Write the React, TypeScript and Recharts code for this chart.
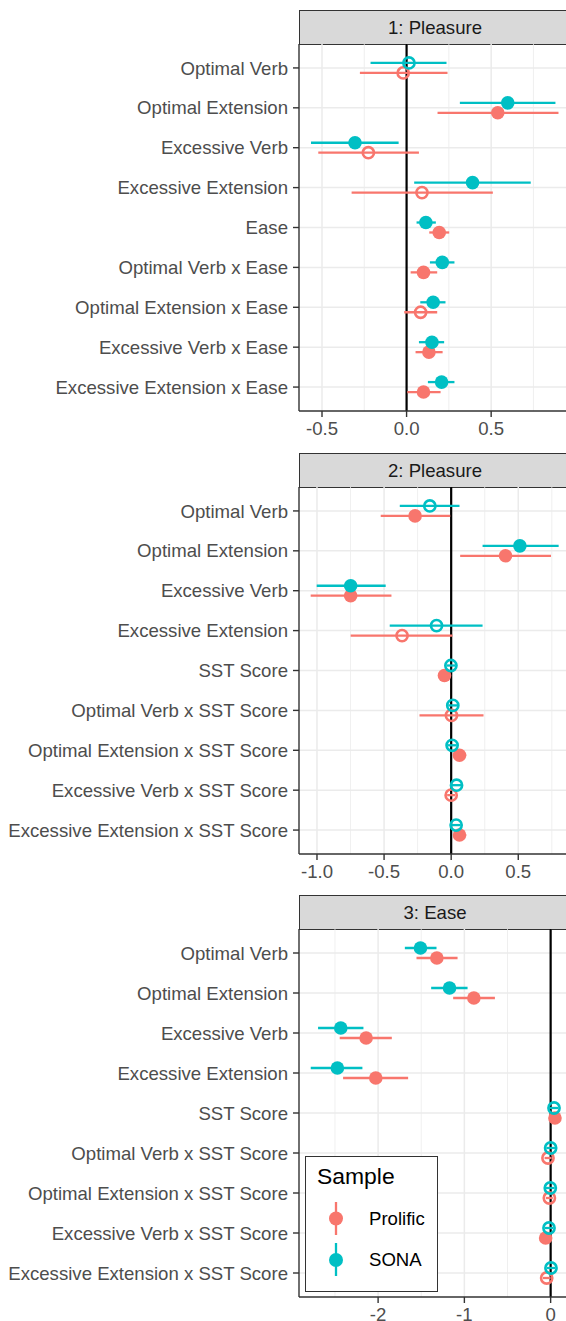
import React from 'react';
import { ScatterChart, Scatter, XAxis, YAxis, CartesianGrid, ErrorBar, ReferenceLine } from 'recharts';

// Terms (rows, top to bottom)
const termsEase = ['Optimal Verb', 'Optimal Extension', 'Excessive Verb', 'Excessive Extension', 'Ease', 'Optimal Verb x Ease', 'Optimal Extension x Ease', 'Excessive Verb x Ease', 'Excessive Extension x Ease'];
const termsSst = ['Optimal Verb', 'Optimal Extension', 'Excessive Verb', 'Excessive Extension', 'SST Score', 'Optimal Verb x SST Score', 'Optimal Extension x SST Score', 'Excessive Verb x SST Score', 'Excessive Extension x SST Score'];

// Panel 1: Pleasure ~ Ease
const p1SonaEst = [0.014, 0.598, -0.305, 0.390, 0.114, 0.211, 0.157, 0.150, 0.207];
const p1SonaLo = [-0.213, 0.315, -0.565, 0.045, 0.059, 0.138, 0.081, 0.073, 0.126];
const p1SonaHi = [0.236, 0.880, -0.047, 0.734, 0.173, 0.283, 0.230, 0.222, 0.283];
const p1SonaSig = [false, true, true, true, true, true, true, true, true];
const p1ProlEst = [-0.020, 0.539, -0.226, 0.091, 0.193, 0.100, 0.083, 0.132, 0.100];
const p1ProlLo = [-0.276, 0.183, -0.522, -0.325, 0.134, 0.024, -0.014, 0.053, 0.004];
const p1ProlHi = [0.242, 0.898, 0.073, 0.510, 0.252, 0.181, 0.181, 0.213, 0.201];
const p1ProlSig = [false, true, false, false, true, true, false, true, true];

// Panel 2: Pleasure ~ SST
const p2SonaEst = [-0.159, 0.512, -0.749, -0.109, -0.002, 0.012, 0.007, 0.040, 0.037];
const p2SonaLo = [-0.383, 0.234, -1.002, -0.458, -0.035, -0.022, -0.027, 0.006, 0.003];
const p2SonaHi = [0.062, 0.801, -0.488, 0.234, 0.031, 0.046, 0.041, 0.074, 0.071];
const p2SonaSig = [false, true, true, false, false, false, false, false, false];
const p2ProlEst = [-0.269, 0.405, -0.749, -0.366, -0.050, 0.002, 0.062, 0.000, 0.062];
const p2ProlLo = [-0.525, 0.067, -1.047, -0.749, -0.075, -0.236, 0.022, -0.030, 0.022];
const p2ProlHi = [-0.007, 0.744, -0.445, 0.010, -0.025, 0.241, 0.112, 0.030, 0.112];
const p2ProlSig = [true, true, true, false, true, false, true, false, true];

// Panel 3: Ease ~ SST
const p3SonaEst = [-1.509, -1.172, -2.433, -2.472, 0.039, 0.000, -0.004, -0.019, 0.004];
const p3SonaLo = [-1.690, -1.385, -2.696, -2.781, -0.010, -0.050, -0.054, -0.069, -0.046];
const p3SonaHi = [-1.323, -0.963, -2.170, -2.182, 0.089, 0.050, 0.046, 0.031, 0.054];
const p3SonaSig = [true, true, true, true, false, false, false, false, false];
const p3ProlEst = [-1.319, -0.890, -2.139, -2.027, 0.050, -0.031, -0.015, -0.058, -0.046];
const p3ProlLo = [-1.555, -1.130, -2.445, -2.406, 0.015, -0.070, -0.055, -0.095, -0.090];
const p3ProlHi = [-1.079, -0.646, -1.841, -1.652, 0.085, 0.010, 0.025, -0.020, 0.000];
const p3ProlSig = [true, true, true, true, true, false, false, true, false];

const ticks1 = [-0.5, 0, 0.5];
const minor1 = [-0.25, 0.25, 0.75];
const ticks2 = [-1, -0.5, 0, 0.5];
const minor2 = [-0.75, -0.25, 0.25, 0.75];
const ticks3 = [-2, -1, 0];
const minor3 = [-2.5, -1.5, -0.5];

const sampleNames = ['Prolific', 'SONA'];
const PROLIFIC = '#F8766D';
const SONA = '#00BFC4';
const FONT = '"Liberation Sans", Arial, sans-serif';
const rowIdx = [0, 1, 2, 3, 4, 5, 6, 7, 8];

const build = (est: number[], lo: number[], hi: number[], sig: boolean[], shift: number) =>
  est.map((v, i) => ({ y: i + shift, x: v, err: [v - lo[i], hi[i] - v], filled: sig[i] }));

const makeShape = (color: string) => (props: any) => {
  const { cx, cy, payload } = props;
  if (cx == null || cy == null) return <g />;
  return payload.filled
    ? <circle cx={cx} cy={cy} r={6.8} fill={color} />
    : <circle cx={cx} cy={cy} r={5.6} fill="none" stroke={color} strokeWidth={2.6} />;
};

// legend drawn as an overlay box in panel 3
const LegendBox = () => (
  <div style={{ position: 'absolute', left: 305, top: 1156, width: 133, height: 136, boxSizing: 'border-box', border: '1.4px solid #333', background: '#fff', fontFamily: FONT }}>
    <div style={{ position: 'absolute', left: 11, top: 8, fontSize: 22.9, lineHeight: 1, color: '#000' }}>Sample</div>
    <svg style={{ position: 'absolute', left: 0, top: 0 }} width={133} height={135}>
      <line x1={30} x2={30} y1={45} y2={78} stroke={PROLIFIC} strokeWidth={2.3} />
      <circle cx={30} cy={61.5} r={7} fill={PROLIFIC} />
      <line x1={30} x2={30} y1={86} y2={119} stroke={SONA} strokeWidth={2.3} />
      <circle cx={30} cy={103} r={7} fill={SONA} />
    </svg>
    <div style={{ position: 'absolute', left: 63, top: 52.5, fontSize: 18.6, lineHeight: 1, color: '#000' }}>{sampleNames[0]}</div>
    <div style={{ position: 'absolute', left: 63, top: 94, fontSize: 18.6, lineHeight: 1, color: '#000' }}>{sampleNames[1]}</div>
  </div>
);

interface PanelProps {
  title: string;
  stripTop: number;
  plotTop: number;
  plotH: number;
  terms: string[];
  domain: [number, number];
  ticks: number[];
  minor: number[];
  fmt: (v: number) => string;
  sona: any[];
  prolific: any[];
}

const Panel: React.FC<PanelProps> = ({ title, stripTop, plotTop, plotH, terms, domain, ticks, minor, fmt, sona, prolific }) => (
  <>
    <div style={{ position: 'absolute', left: 299, top: stripTop, width: 272, height: plotTop - stripTop + 1, boxSizing: 'border-box', border: '1.4px solid #333', background: '#d9d9d9', color: '#1a1a1a', fontFamily: FONT, fontSize: 18.6, display: 'flex', alignItems: 'center', justifyContent: 'center' }}>
      {title}
    </div>
    <div style={{ position: 'absolute', left: 0, top: plotTop }}>
      <ScatterChart width={571} height={plotH + 40} margin={{ top: 0, right: 0, bottom: 0, left: 0 }}>
        <CartesianGrid horizontal={false} verticalValues={minor} stroke="#ebebeb" strokeWidth={0.8} />
        <CartesianGrid horizontalValues={rowIdx} verticalValues={ticks} stroke="#ebebeb" strokeWidth={1.5} />
        <XAxis
          type="number"
          dataKey="x"
          domain={domain}
          allowDataOverflow
          ticks={ticks}
          interval={0}
          tickFormatter={fmt}
          tick={{ fill: '#4d4d4d', fontSize: 18.6, fontFamily: FONT }}
          tickLine={{ stroke: '#333', strokeWidth: 1.4 }}
          axisLine={{ stroke: '#333', strokeWidth: 1.4 }}
          tickSize={6}
          tickMargin={5}
          height={40}
        />
        <YAxis
          type="number"
          dataKey="y"
          domain={[-0.6, 8.6]}
          reversed
          allowDataOverflow
          ticks={rowIdx}
          interval={0}
          tickFormatter={(v: number) => terms[v] ?? ''}
          tick={{ fill: '#4d4d4d', fontSize: 18.6, fontFamily: FONT }}
          tickLine={{ stroke: '#333', strokeWidth: 1.4 }}
          axisLine={{ stroke: '#333', strokeWidth: 1.4 }}
          tickSize={6}
          tickMargin={5}
          width={299}
        />
        <ReferenceLine x={0} stroke="#000" strokeWidth={2.2} />
        <Scatter data={prolific} fill={PROLIFIC} shape={makeShape(PROLIFIC)} isAnimationActive={false}>
          <ErrorBar dataKey="err" direction="x" width={0} stroke={PROLIFIC} strokeWidth={2.3} isAnimationActive={false} />
        </Scatter>
        <Scatter data={sona} fill={SONA} shape={makeShape(SONA)} isAnimationActive={false}>
          <ErrorBar dataKey="err" direction="x" width={0} stroke={SONA} strokeWidth={2.3} isAnimationActive={false} />
        </Scatter>
      </ScatterChart>
    </div>
  </>
);

const f1 = (v: number) => v.toFixed(1);
const f0 = (v: number) => String(v);

export default function App() {
  return (
    <div style={{ position: 'absolute', left: 0, top: 0, width: 566, height: 1321, overflow: 'hidden', background: '#fff' }}>
      <Panel
        title="1: Pleasure"
        stripTop={10}
        plotTop={44}
        plotH={367}
        terms={termsEase}
        domain={[-0.636, 0.972]}
        ticks={ticks1}
        minor={minor1}
        fmt={f1}
        sona={build(p1SonaEst, p1SonaLo, p1SonaHi, p1SonaSig, -0.125)}
        prolific={build(p1ProlEst, p1ProlLo, p1ProlHi, p1ProlSig, 0.125)}
      />
      <Panel
        title="2: Pleasure"
        stripTop={453}
        plotTop={487}
        plotH={367}
        terms={termsSst}
        domain={[-1.134, 0.893]}
        ticks={ticks2}
        minor={minor2}
        fmt={f1}
        sona={build(p2SonaEst, p2SonaLo, p2SonaHi, p2SonaSig, -0.125)}
        prolific={build(p2ProlEst, p2ProlLo, p2ProlHi, p2ProlSig, 0.125)}
      />
      <Panel
        title="3: Ease"
        stripTop={895}
        plotTop={929}
        plotH={368}
        terms={termsSst}
        domain={[-2.917, 0.236]}
        ticks={ticks3}
        minor={minor3}
        fmt={f0}
        sona={build(p3SonaEst, p3SonaLo, p3SonaHi, p3SonaSig, -0.125)}
        prolific={build(p3ProlEst, p3ProlLo, p3ProlHi, p3ProlSig, 0.125)}
      />
      <LegendBox />
    </div>
  );
}
